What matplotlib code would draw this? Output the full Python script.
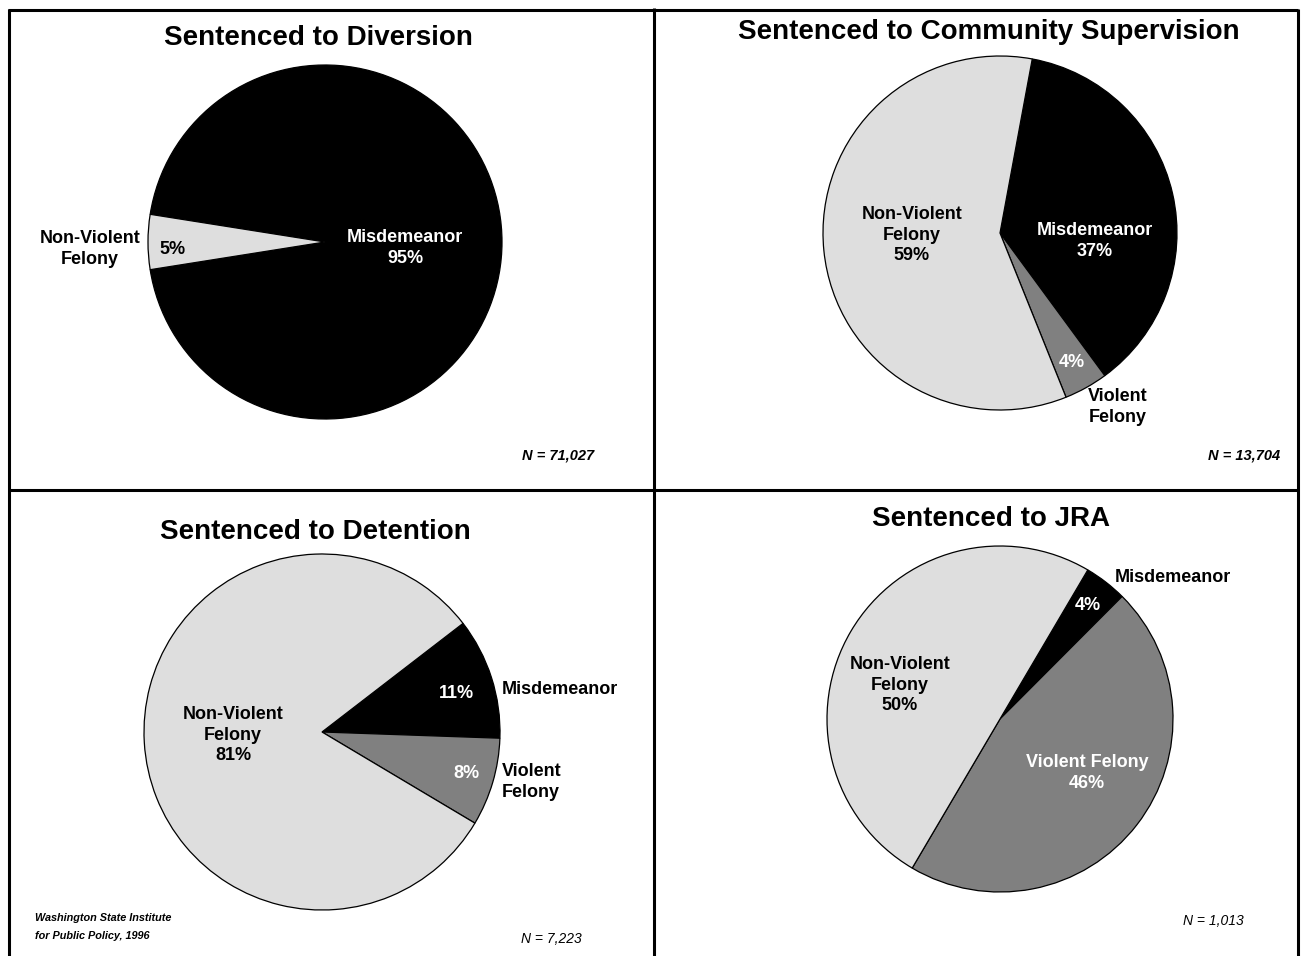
import numpy as np
import matplotlib
matplotlib.use("Agg")
import matplotlib.pyplot as plt

plt.rcParams['font.family'] = ['Liberation Sans', 'DejaVu Sans']

# data
titles = ["Sentenced to Diversion", "Sentenced to Community Supervision",
          "Sentenced to Detention", "Sentenced to JRA"]
diversion_labels = ["Misdemeanor", "Non-Violent Felony"]
diversion_vals = [95, 5]
community_labels = ["Misdemeanor", "Violent Felony", "Non-Violent Felony"]
community_vals = [37, 4, 59]
detention_labels = ["Misdemeanor", "Violent Felony", "Non-Violent Felony"]
detention_vals = [11, 8, 81]
jra_labels = ["Misdemeanor", "Violent Felony", "Non-Violent Felony"]
jra_vals = [4, 46, 50]
n_texts = ["N = 71,027", "N = 13,704", "N = 7,223", "N = 1,013"]
source = "Washington State Institute\nfor Public Policy, 1996"

colors = {"Misdemeanor": "black", "Violent Felony": "#808080",
          "Non-Violent Felony": "#dedede"}

W, H = 1302, 956
fig = plt.figure(figsize=(W / 100, H / 100), dpi=100)
ax = fig.add_axes([0, 0, 1, 1])
ax.set_xlim(0, W)
ax.set_ylim(0, H)
ax.set_aspect('equal')
ax.axis('off')


def Y(y):
    # pixel row (from top) to axes coordinate
    return H - y


# frame lines
lw = 2.2
ax.plot([8, 1298], [Y(10), Y(10)], color='black', lw=lw, solid_capstyle='butt')
ax.plot([8, 1298], [Y(490), Y(490)], color='black', lw=lw, solid_capstyle='butt')
ax.plot([9, 9], [Y(9), 0], color='black', lw=lw, solid_capstyle='butt')
ax.plot([654, 654], [Y(8), 0], color='black', lw=lw, solid_capstyle='butt')
ax.plot([1298, 1298], [Y(9), 0], color='black', lw=lw, solid_capstyle='butt')


def draw_pie(vals, labels, cx, cy, r, start):
    ax.pie(vals, colors=[colors[l] for l in labels], center=(cx, Y(cy)),
           radius=r, startangle=start, counterclock=False,
           wedgeprops=dict(edgecolor='black', linewidth=0.9), frame=True)


lab = dict(fontsize=13, fontweight='bold', linespacing=1.25)
tit = dict(fontsize=20, fontweight='bold', ha='center', va='center')
nlab = dict(fontsize=10.5, style='italic', fontweight='bold', va='center')
nlab2 = dict(fontsize=10, style='italic', va='center', ha='center')

# panel 1: diversion
draw_pie(diversion_vals, diversion_labels, 325, 242, 177, 171)
ax.text(318, Y(38), titles[0], **tit)
ax.text(90, Y(249), "Non-Violent\nFelony", ha='center', va='center', **lab)
ax.text(173, Y(249), f"{diversion_vals[1]}%", ha='center', va='center', **lab)
ax.text(405, Y(248), f"Misdemeanor\n{diversion_vals[0]}%", ha='center',
        va='center', color='white', **lab)
ax.text(594, Y(455), n_texts[0], ha='right', **nlab)

# panel 2: community supervision
draw_pie(community_vals, community_labels, 1000, 233, 177, 79.5)
ax.text(989, Y(32), titles[1], **tit)
ax.text(912, Y(235), f"Non-Violent\nFelony\n{community_vals[2]}%",
        ha='center', va='center', **lab)
ax.text(1095, Y(241), f"Misdemeanor\n{community_vals[0]}%", ha='center',
        va='center', color='white', **lab)
ax.text(1072, Y(362), f"{community_vals[1]}%", ha='center', va='center',
        color='white', **lab)
ax.text(1118, Y(407), "Violent\nFelony", ha='center', va='center', **lab)
ax.text(1280, Y(455), n_texts[1], ha='right', **nlab)

# panel 3: detention
draw_pie(detention_vals, detention_labels, 322, 732, 178, 37.6)
ax.text(315, Y(532), titles[2], **tit)
ax.text(233, Y(735), f"Non-Violent\nFelony\n{detention_vals[2]}%",
        ha='center', va='center', **lab)
ax.text(456, Y(693), f"{detention_vals[0]}%", ha='center', va='center',
        color='white', **lab)
ax.text(502, Y(690), "Misdemeanor", ha='left', va='center', **lab)
ax.text(466, Y(774), f"{detention_vals[1]}%", ha='center', va='center',
        color='white', **lab)
ax.text(502, Y(782), "Violent\nFelony", ha='left', va='center', **lab)
ax.text(551, Y(939), n_texts[2], **nlab2)
ax.text(35, Y(927), source, ha='left', va='center', fontsize=7.8,
        style='italic', fontweight='bold', linespacing=2.0)

# panel 4: JRA
draw_pie(jra_vals, jra_labels, 1000, 719, 173, 59.5)
ax.text(991, Y(519), titles[3], **tit)
ax.text(1115, Y(578), "Misdemeanor", ha='left', va='center', **lab)
ax.text(1088, Y(605), f"{jra_vals[0]}%", ha='center', va='center',
        color='white', **lab)
ax.text(900, Y(685), f"Non-Violent\nFelony\n{jra_vals[2]}%", ha='center',
        va='center', **lab)
ax.text(1087, Y(773), f"Violent Felony\n{jra_vals[1]}%", ha='center',
        va='center', color='white', **lab)
ax.text(1213, Y(921), n_texts[3], **nlab2)

ax.set_xlim(0, W)
ax.set_ylim(0, H)
ax.axis('off')
fig.savefig("out.png", dpi=100)
